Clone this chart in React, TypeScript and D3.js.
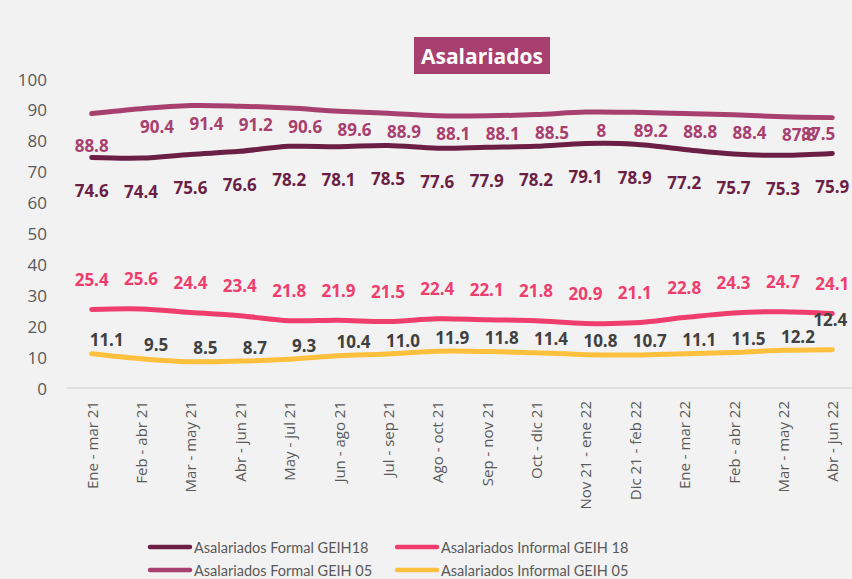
import React from "react";
import * as d3 from "d3";

const categories = [
  "Ene - mar 21", "Feb - abr 21", "Mar - may 21", "Abr - jun 21", "May - jul 21",
  "Jun - ago 21", "Jul - sep 21", "Ago - oct 21", "Sep - nov 21", "Oct - dic 21",
  "Nov 21 - ene 22", "Dic 21 - feb 22", "Ene - mar 22", "Feb - abr 22", "Mar - may 22", "Abr - jun 22",
];
const formal18 = [74.6, 74.4, 75.6, 76.6, 78.2, 78.1, 78.5, 77.6, 77.9, 78.2, 79.1, 78.9, 77.2, 75.7, 75.3, 75.9];
const formal05 = [88.8, 90.4, 91.4, 91.2, 90.6, 89.6, 88.9, 88.1, 88.1, 88.5, 89.3, 89.2, 88.8, 88.4, 87.8, 87.5];
const formal05Text = ["88.8", "90.4", "91.4", "91.2", "90.6", "89.6", "88.9", "88.1", "88.1", "88.5", "8", "89.2", "88.8", "88.4", "87.8", "87.5"];
const informal18 = [25.4, 25.6, 24.4, 23.4, 21.8, 21.9, 21.5, 22.4, 22.1, 21.8, 20.9, 21.1, 22.8, 24.3, 24.7, 24.1];
const informal05 = [11.1, 9.5, 8.5, 8.7, 9.3, 10.4, 11.0, 11.9, 11.8, 11.4, 10.8, 10.7, 11.1, 11.5, 12.2, 12.4];
const yTicks = [0, 10, 20, 30, 40, 50, 60, 70, 80, 90, 100];

const W = 852;
const H = 579;
const FONT = "'Open Sans', 'Segoe UI', sans-serif";

type Series = {
  name: string;
  values: number[];
  text: string[];
  color: string;
  labelColor: string;
  dx: number;
  dy: number;
  overrides?: Record<number, { dx: number; dy: number }>;
};

const series: Series[] = [
  { name: "Asalariados Formal GEIH 05", values: formal05, text: formal05Text, color: "#A8406F", labelColor: "#A8406F", dx: 16, dy: 18,
    overrides: { 0: { dx: 0, dy: 32 }, 15: { dx: -14, dy: 16 } } },
  { name: "Asalariados Formal GEIH18", values: formal18, text: formal18.map((v) => v.toFixed(1)), color: "#6B1F45", labelColor: "#6B1F45", dx: 0, dy: 33 },
  { name: "Asalariados Informal GEIH 18", values: informal18, text: informal18.map((v) => v.toFixed(1)), color: "#EF3E6E", labelColor: "#EF3E6E", dx: 0, dy: -30 },
  { name: "Asalariados Informal GEIH 05", values: informal05, text: informal05.map((v) => v.toFixed(1)), color: "#FFC03D", labelColor: "#404040", dx: 15, dy: -14,
    overrides: { 15: { dx: -2, dy: -30 } } },
];

const legendItems = [
  { name: "Asalariados Formal GEIH18", color: "#6B1F45", col: 0, row: 0 },
  { name: "Asalariados Informal GEIH 18", color: "#EF3E6E", col: 1, row: 0 },
  { name: "Asalariados Formal GEIH 05", color: "#A8406F", col: 0, row: 1 },
  { name: "Asalariados Informal GEIH 05", color: "#FFC03D", col: 1, row: 1 },
];

export default function App() {
  const x = d3.scaleBand<string>().domain(categories).range([67, 857]).padding(0);
  const y = d3.scaleLinear().domain([0, 100]).range([388, 79]);
  const cx = (c: string) => (x(c) ?? 0) + x.bandwidth() / 2;

  const line = d3
    .line<number>()
    .x((_, i) => cx(categories[i]))
    .y((d) => y(d))
    .curve(d3.curveCatmullRom.alpha(0.5));

  return (
    <div style={{ position: "absolute", left: 0, top: 0, width: W, height: H, background: "#F2F2F2" }}>
      <svg width={W} height={H} style={{ display: "block", fontFamily: FONT }}>
        <rect x={0} y={0} width={W} height={H} fill="#F2F2F2" />
        {/* title */}
        <rect x={414} y={37} width={136} height={37} fill="#A8406F" />
        <text x={482} y={56} textAnchor="middle" dominantBaseline="central" fill="#FFFFFF" fontSize={21} fontWeight={700}>
          Asalariados
        </text>
        {/* y axis labels */}
        {yTicks.map((t) => (
          <text key={t} x={47} y={y(t)} textAnchor="end" dominantBaseline="central" fill="#595959" fontSize={17}>
            {t}
          </text>
        ))}
        {/* baseline */}
        <line x1={67} x2={W} y1={y(0)} y2={y(0)} stroke="#D9D9D9" strokeWidth={1.5} />
        {/* x labels */}
        {categories.map((c) => (
          <text
            key={c}
            transform={`translate(${cx(c)},${401}) rotate(-90)`}
            textAnchor="end"
            dominantBaseline="central"
            fill="#595959"
            fontSize={15}
          >
            {c}
          </text>
        ))}
        {/* lines */}
        {series.map((s) => (
          <path key={s.name} d={line(s.values) ?? ""} fill="none" stroke={s.color} strokeWidth={5} strokeLinecap="round" strokeLinejoin="round" />
        ))}
        {/* labels */}
        {series.map((s) =>
          s.values.map((v, i) => {
            const o = s.overrides?.[i] ?? { dx: s.dx, dy: s.dy };
            return (
              <text
                key={s.name + i}
                x={cx(categories[i]) + o.dx}
                y={y(v) + o.dy}
                textAnchor="middle"
                dominantBaseline="central"
                fill={s.labelColor}
                fontSize={17}
                fontWeight={700}
              >
                {s.text[i]}
              </text>
            );
          })
        )}
        {/* legend */}
        {legendItems.map((l) => {
          const lx = l.col === 0 ? 148 : 395;
          const ly = l.row === 0 ? 547 : 570;
          return (
            <g key={l.name}>
              <line x1={lx + 2} x2={lx + 42} y1={ly} y2={ly} stroke={l.color} strokeWidth={4.5} strokeLinecap="round" />
              <text x={lx + 46} y={ly} dominantBaseline="central" fill="#595959" fontSize={14.5} fontFamily="Lato, sans-serif">
                {l.name}
              </text>
            </g>
          );
        })}
      </svg>
    </div>
  );
}
